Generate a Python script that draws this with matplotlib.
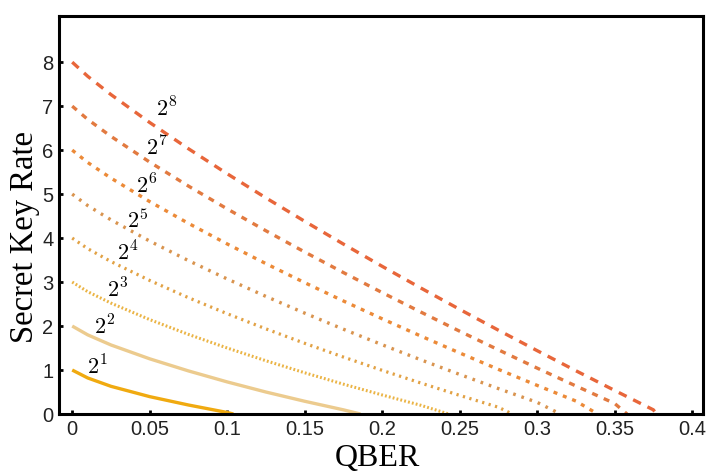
import matplotlib
matplotlib.use("Agg")
import matplotlib.pyplot as plt

# QBER sample points and secret key rate
qber = [0.0, 0.01, 0.025, 0.05, 0.075, 0.1, 0.125, 0.15, 0.175, 0.2, 0.225,
        0.25, 0.275, 0.3, 0.325, 0.35, 0.375]

rate_2 = [1.0, 0.82, 0.63, 0.395, 0.205, 0.035]
end_2 = 0.104
rate_4 = [2.0, 1.800, 1.570, 1.255, 0.980, 0.730, 0.500, 0.290, 0.095]
end_4 = 0.186
rate_8 = [3.0, 2.782, 2.522, 2.147, 1.810, 1.501, 1.211, 0.938, 0.679, 0.433, 0.198]
end_8 = 0.243
rate_16 = [4.0, 3.760, 3.467, 3.037, 2.645, 2.281, 1.936, 1.608, 1.295, 0.993, 0.704,
           0.424, 0.154]
end_16 = 0.284
rate_32 = [5.0, 4.739, 4.415, 3.932, 3.488, 3.071, 2.674, 2.294, 1.928, 1.575, 1.232,
           0.900, 0.578, 0.265]
end_32 = 0.315
rate_64 = [6.0, 5.719, 5.364, 4.830, 4.335, 3.867, 3.419, 2.987, 2.570, 2.165, 1.772,
           1.389, 1.015, 0.651, 0.295]
end_64 = 0.339
rate_128 = [7.0, 6.699, 6.313, 5.728, 5.183, 4.664, 4.166, 3.684, 3.216, 2.761, 2.317,
            1.883, 1.459, 1.044, 0.638, 0.240]
end_128 = 0.358
rate_256 = [8.0, 7.679, 7.263, 6.628, 6.032, 5.463, 4.914, 4.382, 3.864, 3.358, 2.864,
            2.380, 1.906, 1.441, 0.984, 0.536, 0.095]
end_256 = 0.377

labels = [r"$2^1$", r"$2^2$", r"$2^3$", r"$2^4$", r"$2^5$", r"$2^6$", r"$2^7$", r"$2^8$"]
label_x = [0.016, 0.021, 0.029, 0.036, 0.042, 0.048, 0.0545, 0.061]
label_y = [1.09, 1.98, 2.82, 3.68, 4.40, 5.20, 6.05, 6.95]

xticks = [0, 0.05, 0.1, 0.15, 0.2, 0.25, 0.3, 0.35, 0.4]
xticklabels = ["0", "0.05", "0.1", "0.15", "0.2", "0.25", "0.3", "0.35", "0.4"]
yticks = [0, 1, 2, 3, 4, 5, 6, 7, 8]

plt.rcParams["mathtext.fontset"] = "cm"

fig = plt.figure(figsize=(7.07, 4.73), dpi=100)
ax = fig.add_axes([0.0835, 0.1247, 0.9108, 0.8415])

series = [(rate_2, end_2), (rate_4, end_4), (rate_8, end_8), (rate_16, end_16),
          (rate_32, end_32), (rate_64, end_64), (rate_128, end_128), (rate_256, end_256)]
colors = ["#F0AA10", "#ECCB8E", "#EBB445", "#E2A245", "#D9944F", "#EC8A38", "#E27A40", "#E8663A"]
styles = [dict(ls="-", lw=2.4),
          dict(ls="-", lw=2.4),
          dict(ls=(0, (0.6, 0.7)), lw=2.2),
          dict(ls=(0, (0.7, 1.4)), lw=2.3),
          dict(ls=(0, (0.8, 1.8)), lw=2.4),
          dict(ls=(0, (1.2, 1.8)), lw=2.4),
          dict(ls=(0, (1.8, 2.0)), lw=2.4),
          dict(ls=(0, (2.6, 2.2)), lw=2.4)]

for (vals, end), c, st in zip(series, colors, styles):
    xs = qber[:len(vals)] + [end]
    ys = vals + [0.0]
    ax.plot(xs, ys, color=c, solid_capstyle="butt", dash_capstyle="butt", **st)

for lab, lx, ly in zip(labels, label_x, label_y):
    ax.text(lx, ly, lab, fontsize=16, ha="center", va="center", color="black")

ax.set_xlim(-0.0085, 0.407)
ax.set_ylim(0, 9.05)
ax.set_xticks(xticks)
ax.set_xticklabels(xticklabels)
ax.set_yticks(yticks)
ax.tick_params(direction="in", length=3, width=2, labelsize=14.5, pad=4)
for lab in ax.get_xticklabels() + ax.get_yticklabels():
    lab.set_family("Liberation Sans")
    lab.set_color("#222222")
for sp in ax.spines.values():
    sp.set_linewidth(2.2)

ax.set_xlabel("QBER", family="Liberation Serif", fontsize=23)
ax.xaxis.set_label_coords(0.494, -0.075)
ax.xaxis.label.set_va("top")
ax.set_ylabel("Secret Key Rate", family="Liberation Serif", fontsize=23.5)
ax.yaxis.set_label_coords(-0.029, 0.445)

fig.savefig("out.png", dpi=100)
